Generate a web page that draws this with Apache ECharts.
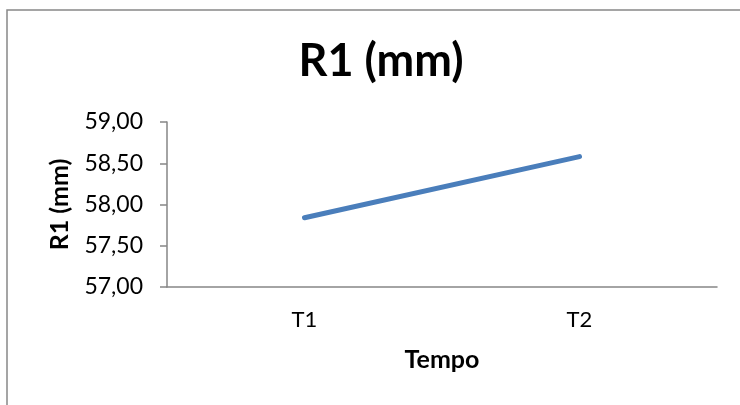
<!DOCTYPE html>
<html>
<head>
<meta charset="utf-8">
<script src="https://cdn.jsdelivr.net/npm/echarts@6/dist/echarts.min.js"></script>
<style>html,body{margin:0;padding:0;background:#fff}#c{width:740px;height:405px}</style>
</head>
<body>
<div id="c"></div>
<script>
const titleText = 'R1 (mm)';
const categories = ['T1', 'T2'];
const values = [57.84, 58.58];
const yName = 'R1 (mm)';
const xName = 'Tempo';
const yMin = 57, yMax = 59, yInterval = 0.5;

const FONT = 'Lato';
const chart = echarts.init(document.getElementById('c'), null, {renderer: 'canvas'});
chart.setOption({
  animation: false,
  backgroundColor: '#fff',
  graphic: [{
    type: 'rect', shape: {x: 7, y: 10, width: 760, height: 420},
    style: {fill: 'none', stroke: '#888', lineWidth: 1.5}, silent: true
  }],
  title: {
    text: titleText, left: 376, top: 34, textAlign: 'center',
    textStyle: {fontFamily: FONT, fontWeight: 'bold', fontSize: 45, color: '#000'}
  },
  grid: {left: 167, right: 23, top: 122, bottom: 118, containLabel: false},
  xAxis: {
    type: 'category', data: categories, boundaryGap: true,
    name: xName, nameLocation: 'middle', nameGap: 60,
    nameTextStyle: {fontFamily: FONT, fontWeight: 'bold', fontSize: 25, color: '#000', verticalAlign: 'top'},
    axisLine: {lineStyle: {color: '#868686', width: 1.5}},
    axisTick: {show: false},
    axisLabel: {fontFamily: FONT, fontSize: 22, color: '#000', margin: 22}
  },
  yAxis: {
    type: 'value', min: yMin, max: yMax, interval: yInterval,
    name: yName, nameLocation: 'middle', nameGap: 95, nameRotate: 90,
    nameTextStyle: {fontFamily: FONT, fontWeight: 'bold', fontSize: 25, color: '#000'},
    axisLine: {show: true, lineStyle: {color: '#868686', width: 1.5}},
    axisTick: {show: true, inside: false, length: 7, lineStyle: {color: '#868686', width: 1.5}},
    splitLine: {show: false},
    axisLabel: {fontFamily: FONT, fontSize: 23, color: '#000', margin: 24,
      formatter: v => v.toFixed(2).replace('.', ',')}
  },
  series: [{
    type: 'line', data: values, showSymbol: false, symbol: 'none',
    lineStyle: {color: '#4A7EBB', width: 5, cap: 'round'}
  }]
});
</script>
</body>
</html>
